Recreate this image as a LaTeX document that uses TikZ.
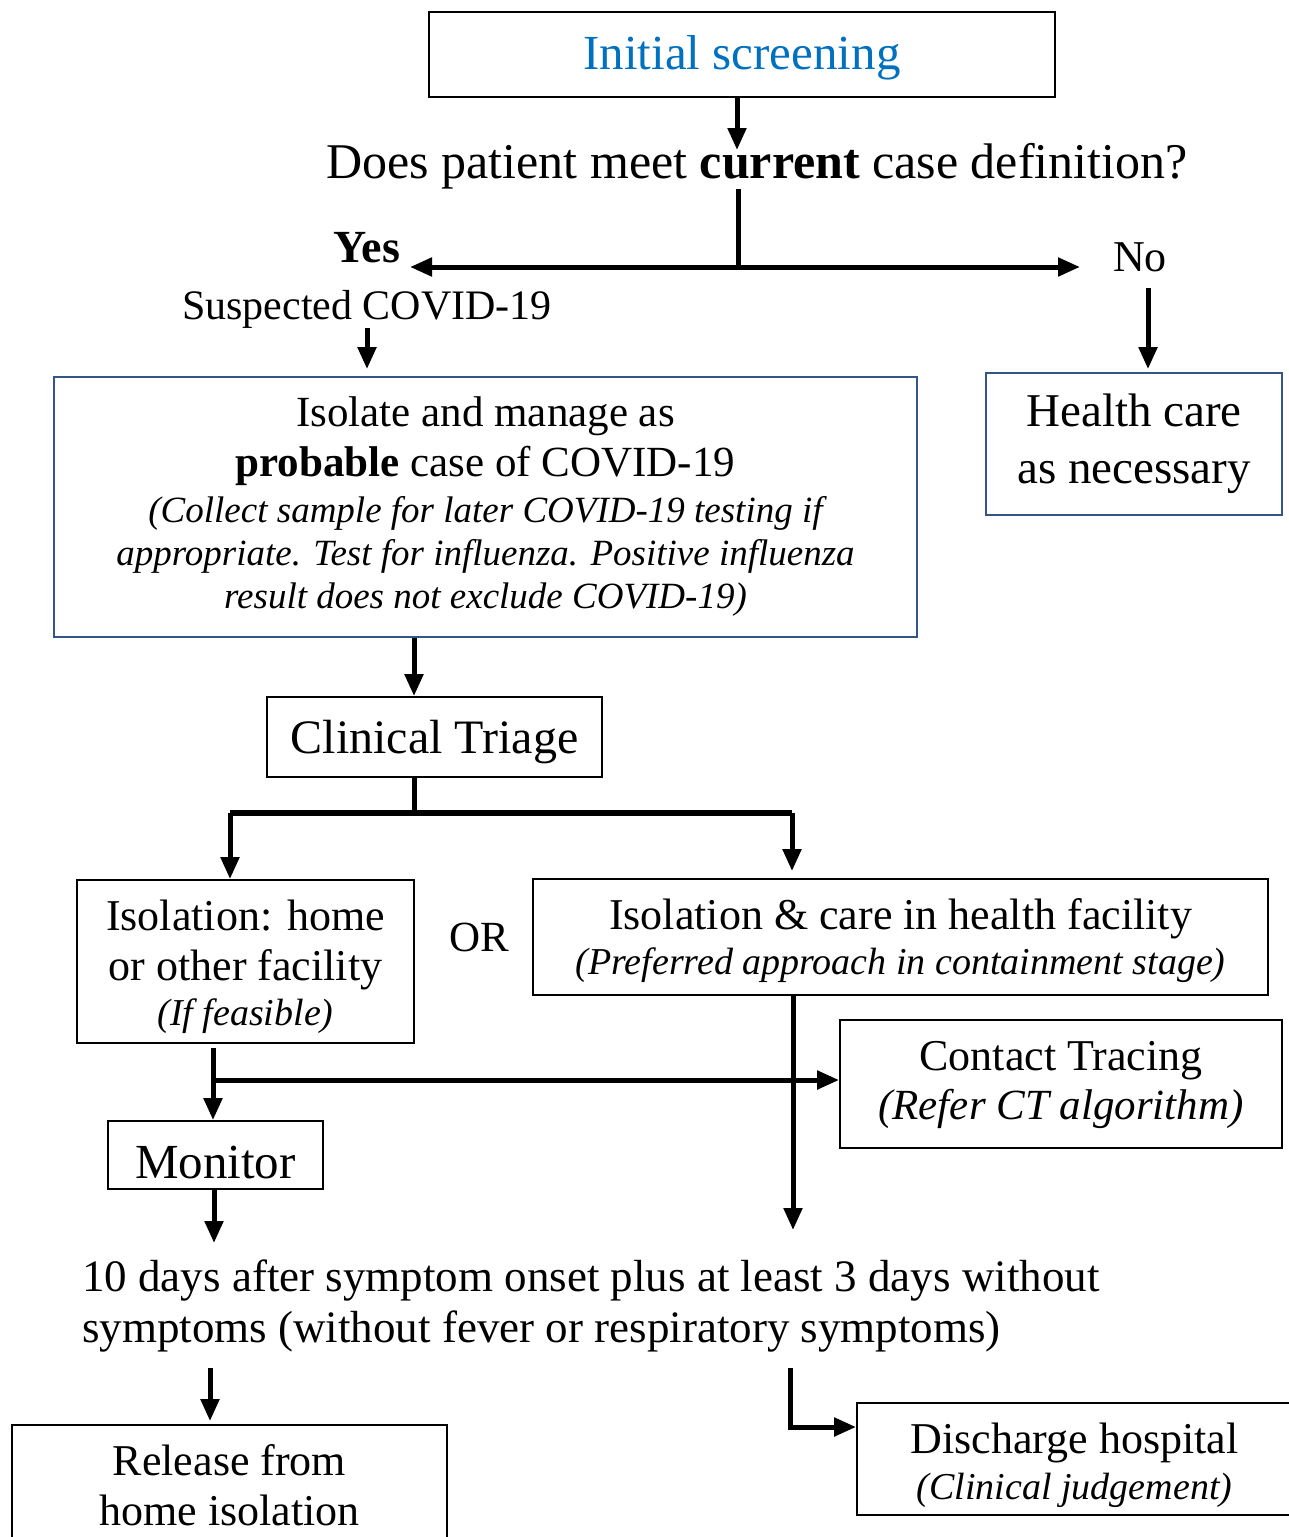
\documentclass[tikz,border=0pt]{standalone}
\usepackage{fontspec}
\setmainfont{Liberation Serif}
\usetikzlibrary{arrows.meta}
\definecolor{titleblue}{RGB}{0,112,192}
\definecolor{edgeblue}{RGB}{52,84,140}

\begin{document}
\begin{tikzpicture}[x=1pt,y=-1pt,
        box/.style={draw, line width=1.8pt, inner sep=0pt},
        bluebox/.style={box, draw=edgeblue},
        txt/.style={font=\fontsize{44}{50}\selectfont, align=center, inner sep=0pt},
        note/.style={font=\itshape\fontsize{38}{43}\selectfont, align=center, inner sep=0pt},
        big/.style={font=\fontsize{49}{57}\selectfont, align=center, inner sep=0pt},
        flow/.style={line width=5pt, -{Triangle[length=22pt,width=18pt]}},
        trunk/.style={line width=5pt}]
        \useasboundingbox (0,0) rectangle (1288,1537);

        % screening and question
        \node[box, big, text=titleblue, text height=41pt, minimum width=626pt, minimum height=85pt] (initscr) at (742,54.5) {Initial screening};
        \node[txt, font=\fontsize{50}{58}\selectfont] (question) at (757,166) {Does patient meet \textbf{current} case definition?};
        \node[txt, font=\bfseries\fontsize{46}{52}\selectfont] (yes) at (367,248) {Yes};
        \node[txt] (no) at (1140,257) {No};
        \node[txt, font=\fontsize{42}{48}\selectfont] (susp) at (367,309) {Suspected COVID-19};

        % probable case
        \node[bluebox, minimum width=863pt, minimum height=260pt] (probable) at (485.5,507) {};
        \node[txt, font=\fontsize{43}{50}\selectfont] (probtitle) at (485.5,441) {Isolate and manage as\\ \textbf{probable} case of COVID-19};
        \node[note, font=\itshape\fontsize{37}{43}\selectfont] (probnote) at (485.5,556) {(Collect sample for later COVID-19 testing if\\ appropriate. Test for influenza. Positive influenza\\ result does not exclude COVID-19)};
        \node[bluebox, txt, font=\fontsize{47}{57}\selectfont, minimum width=296pt, minimum height=142pt] (hcare) at (1134,444) {Health care\\ as necessary};

        % triage
        \node[box, big, font=\fontsize{48}{56}\selectfont, text height=43pt, minimum width=335pt, minimum height=80pt] (triage) at (434.5,737) {Clinical Triage};
        \node[box, minimum width=337pt, minimum height=163pt] (homeiso) at (245.5,961.5) {};
        \node[txt] (hometitle) at (245.5,945) {Isolation: home\\ or other facility};
        \node[note] (homenote) at (245.5,1016) {(If feasible)};
        \node[txt, font=\fontsize{43}{50}\selectfont] (orl) at (479,937) {OR};
        \node[box, minimum width=735pt, minimum height=116pt] (facility) at (900.5,937) {};
        \node[txt] (factitle) at (900.5,919) {Isolation \& care in health facility};
        \node[note] (facnote) at (900.5,965) {(Preferred approach in containment stage)};

        % follow up
        \node[box, minimum width=442pt, minimum height=128pt] (contact) at (1061,1084) {};
        \node[txt] (cttitle) at (1061,1061) {Contact Tracing};
        \node[note, font=\itshape\fontsize{43}{50}\selectfont] (ctnote) at (1061,1109) {(Refer CT algorithm)};
        \node[box, big, text height=47pt, minimum width=215pt, minimum height=68pt] (monitor) at (215.5,1155) {Monitor};
        \node[txt, font=\fontsize{45}{51}\selectfont, align=left, anchor=west] (criteria) at (82,1305.5) {10 days after symptom onset plus at least 3 days without\\ symptoms (without fever or respiratory symptoms)};

        % release
        \node[box, txt, minimum width=435pt, minimum height=120pt] (release) at (229.5,1485) {Release from\\ home isolation};
        \node[box, minimum width=435pt, minimum height=112pt] (discharge) at (1074.5,1459) {};
        \node[txt] (distitle) at (1074.5,1443) {Discharge hospital};
        \node[note] (disnote) at (1074.5,1490) {(Clinical judgement)};

        \coordinate (qtip) at (737,150);
        \coordinate (fork) at (738,267);
        \coordinate (yestip) at (410,267);
        \coordinate (notip) at (1080,267);
        \coordinate (nostart) at (1148,288);
        \coordinate (split) at (414,813);
        \coordinate (leftx) at (230,813);
        \coordinate (rightx) at (792,813);
        \coordinate (factip) at (793,1230);
        \coordinate (homex) at (213,1048);
        \coordinate (branch) at (213,1080);
        \coordinate (montip) at (214,1243);
        \coordinate (relx) at (210,1368);
        \coordinate (disx) at (790,1368);
        \coordinate (disbend) at (790,1427);

        \draw[flow] (initscr.south -| qtip) -- (qtip);
        \draw[trunk] (question.south -| fork) -- (fork);
        \draw[flow] (fork) -- (yestip);
        \draw[flow] (fork) -- (notip);
        \draw[flow, shorten >=7pt] (susp.south) -- (susp.south |- probable.north);
        \draw[flow, shorten >=3pt] (nostart) -- (nostart |- hcare.north);
        \draw[flow] (probable.south -| split) -- (triage.north -| split);
        \draw[trunk] (triage.south -| split) -- (split);
        \draw[line width=6pt] (leftx) -- (rightx);
        \draw[flow] (leftx) -- (homeiso.north -| leftx);
        \draw[flow, shorten >=7pt] (rightx) -- (facility.north -| rightx);
        \draw[flow] (facility.south -| factip) -- (factip);
        \draw[flow] (homex) -- (monitor.north -| homex);
        \draw[flow] (branch) -- (branch -| contact.west);
        \draw[flow] (monitor.south -| montip) -- (montip);
        \draw[flow, shorten >=3pt] (relx) -- (release.north -| relx);
        \draw[flow] (disx) -- (disbend) -- (disbend -| discharge.west);
    \end{tikzpicture}
\end{document}
